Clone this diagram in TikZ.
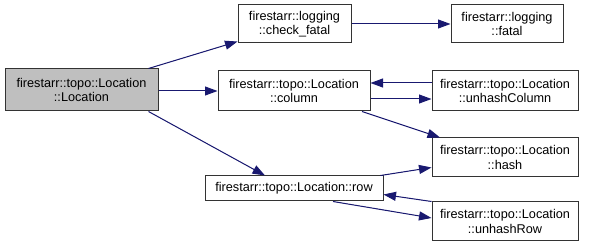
\documentclass[tikz,border=0pt]{standalone}
\usepackage{fontspec}
\setmainfont{Liberation Sans}
\usetikzlibrary{arrows.meta}
\definecolor{callblue}{HTML}{191970}
\definecolor{rootgrey}{HTML}{BFBFBF}
\tikzset{
  fn/.style={draw=black!80, line width=1pt, fill=white, align=center, inner sep=0pt,
    font=\fontsize{12.7}{14.5}\selectfont},
  call/.style={draw=callblue, line width=1pt, -{Triangle[length=12.5pt,width=9pt]}, fill=callblue},
}
\begin{document}
\begin{tikzpicture}[x=1pt,y=-1pt]
\useasboundingbox (0,0) rectangle (589,248);
% functions
\node[fn, fill=rootgrey, minimum width=153, minimum height=42] (loc) at (81.5,90) {firestarr::topo::Location\\::Location};
\node[fn, minimum width=113, minimum height=38] (chk) at (294.5,24) {firestarr::logging\\::check\_fatal};
\node[fn, minimum width=112, minimum height=38] (fatal) at (507,24) {firestarr::logging\\::fatal};
\node[fn, minimum width=152, minimum height=40] (col) at (294,91) {firestarr::topo::Location\\::column};
\node[fn, minimum width=146, minimum height=40] (uncol) at (505,91) {firestarr::topo::Location\\::unhashColumn};
\node[fn, minimum width=146, minimum height=39] (hash) at (505,157.5) {firestarr::topo::Location\\::hash};
\node[fn, minimum width=178, minimum height=25] (row) at (294,188.5) {firestarr::topo::Location::row};
\node[fn, minimum width=146, minimum height=39] (unrow) at (505,221.5) {firestarr::topo::Location\\::unhashRow};
% calls
\draw[call] ([xshift=-10pt]loc.north east) -- ([yshift=2pt]chk.south west);
\draw[call] (col.west -| loc.east) -- (col.west);
\draw[call] ([xshift=-10pt]loc.south east) -- ([xshift=-29pt]row.north);
\draw[call] (chk.east) -- (fatal.west);
\draw[call] ([yshift=8pt]uncol.west) -- ([yshift=8pt]col.east);
\draw[call] ([yshift=-8pt]col.east) -- ([yshift=-8pt]uncol.west);
\draw[call] ([xshift=68pt]col.south) -- ([xshift=-65pt]hash.north);
\draw[call] ([xshift=-3pt]row.north east) -- ([yshift=-10pt]hash.west);
\draw[call] (unrow.north west) -- ([yshift=-6pt]row.east);
\draw[call] ([xshift=39pt]row.south) -- ([yshift=3.5pt]unrow.west);
\end{tikzpicture}
\end{document}
